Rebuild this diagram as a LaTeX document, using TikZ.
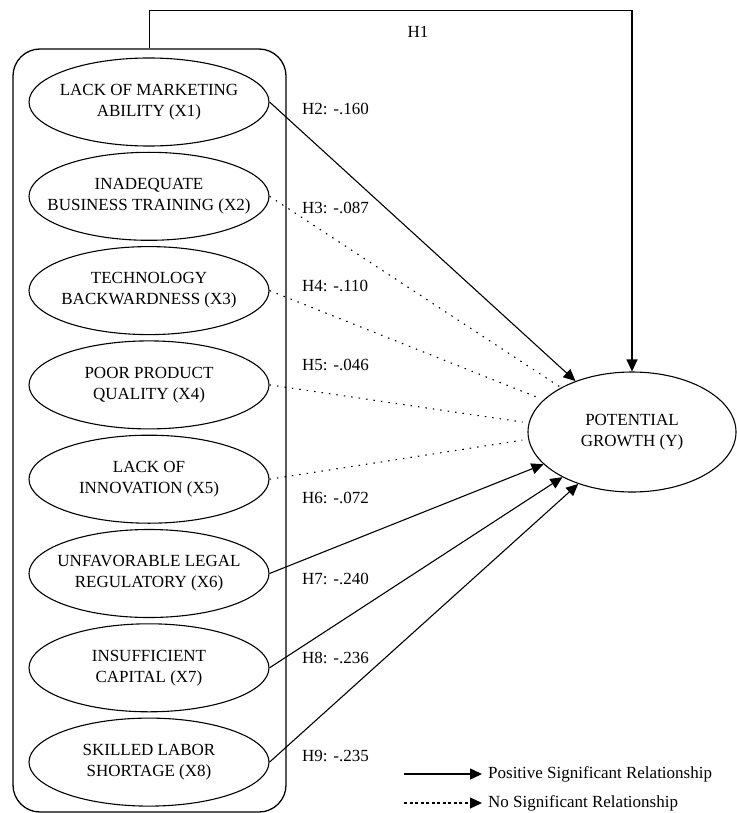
\documentclass[tikz,border=0pt]{standalone}
\usepackage{fontspec}
\setmainfont{Liberation Serif}
\usetikzlibrary{shapes.geometric,arrows.meta}
\newcommand{\twoline}[2]{\makebox[0pt][c]{#1}\\\makebox[0pt][c]{#2}}
\begin{document}
\begin{tikzpicture}[x=1pt,y=-1pt,
  var/.style={draw, ellipse, line width=1.1pt, minimum width=240pt, minimum height=88pt,
    inner sep=0pt, align=center, font=\fontsize{17}{21}\selectfont},
  lbl/.style={anchor=west, inner sep=0pt, font=\fontsize{17}{21}\selectfont},
  sig/.style={line width=1.1pt, -{Triangle[length=12pt,width=11pt]}},
  nsig/.style={line width=1.1pt, dash pattern=on 1.5pt off 6pt},
  boxstyle/.style={draw, line width=1.3pt, rounded corners=27pt, inner sep=0pt,
    minimum width=273pt, minimum height=763pt}]
\useasboundingbox (0,0) rectangle (736,813);

\node[boxstyle] (box) at (149.5,430.5) {};

\node[var] (x1) at (149,102) {\twoline{LACK OF MARKETING}{ABILITY (X1)}};
\node[var] (x2) at (149,196.3) {\twoline{INADEQUATE}{BUSINESS TRAINING (X2)}};
\node[var] (x3) at (149,290.6) {\twoline{TECHNOLOGY}{BACKWARDNESS (X3)}};
\node[var] (x4) at (149,384.9) {\twoline{POOR PRODUCT}{QUALITY (X4)}};
\node[var] (x5) at (149,479.2) {\twoline{LACK OF}{INNOVATION (X5)}};
\node[var] (x6) at (149,573.5) {\twoline{UNFAVORABLE LEGAL}{REGULATORY (X6)}};
\node[var] (x7) at (149,667.8) {\twoline{INSUFFICIENT}{CAPITAL (X7)}};
\node[var] (x8) at (149,762.1) {\twoline{SKILLED LABOR}{SHORTAGE (X8)}};

\node[var, minimum width=208pt, minimum height=120pt] (y) at (632,432) {\twoline{POTENTIAL}{GROWTH (Y)}};

% H1
\draw[sig] (box.north) -- ++(0,-38) -| (y.north);
\node[font=\fontsize{17}{21}\selectfont, inner sep=0pt] (h1) at (418,32) {H1};

% paths
\draw[sig] (x1.east) -- (y.138);
\draw[nsig] (x2.east) -- (y.148.6);
\draw[nsig, shorten >=3pt] (x3.east) -- (y.160);
\draw[nsig, shorten >=6pt] (x4.east) -- (y.175);
\draw[nsig, shorten >=6pt] (x5.east) -- (y.184);
\draw[sig] (x6.east) -- (y.200);
\draw[sig] (x7.east) -- (y.213);
\draw[sig] (x8.east) -- (y.224);

% labels
\node[lbl] (h2) at (302,109) {H2: -.160};
\node[lbl] (h3) at (302,208) {H3: -.087};
\node[lbl] (h4) at (302,286) {H4: -.110};
\node[lbl] (h5) at (302,365) {H5: -.046};
\node[lbl] (h6) at (302,498) {H6: -.072};
\node[lbl] (h7) at (302,579) {H7: -.240};
\node[lbl] (h8) at (302,658) {H8: -.236};
\node[lbl] (h9) at (302,756) {H9: -.235};

% legend
\coordinate (la) at (404,774);
\coordinate (lb) at (404,803);
\node[lbl] (lt1) at (488,774) {Positive Significant Relationship};
\node[lbl] (lt2) at (488,803) {No Significant Relationship};
\draw[sig, line width=1.5pt] (la) -- ([xshift=-6pt]lt1.west);
\draw[line width=2.4pt, dash pattern=on 3pt off 2.5pt] (lb) -- ([xshift=-16pt]lt2.west);
\draw[line width=1.2pt, -{Triangle[length=12pt,width=11pt]}] ([xshift=-17pt]lt2.west) -- ([xshift=-6pt]lt2.west);
\end{tikzpicture}
\end{document}
